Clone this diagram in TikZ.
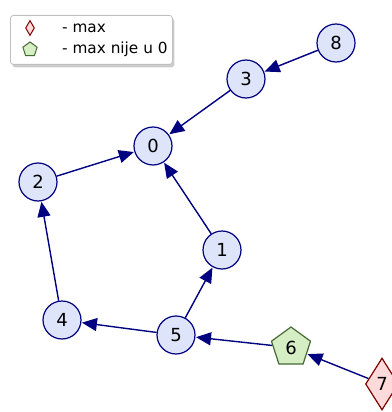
\documentclass[tikz,border=0pt]{standalone}
\usepackage{fontspec}
\setmainfont{DejaVu Sans}
\usepackage{xcolor}
\usepackage{tikz}
\usetikzlibrary{arrows.meta,shapes,shadows,positioning}
\definecolor{edgeblue}{RGB}{0,0,128}
\definecolor{nodefill}{RGB}{222,228,250}
\definecolor{pentfill}{RGB}{214,238,196}
\definecolor{pentdraw}{RGB}{70,105,55}
\definecolor{diafill}{RGB}{255,218,218}
\definecolor{diadraw}{RGB}{128,0,0}

\begin{document}
\begin{tikzpicture}[x=1pt, y=-1pt]
    \tikzset{
        vertex/.style={circle, draw=edgeblue, line width=1.2pt, fill=nodefill, minimum size=38pt, inner sep=0pt, font=\fontsize{18}{18}\selectfont},
        maxnode/.style={diamond, draw=diadraw, line width=1.2pt, fill=diafill, minimum width=33pt, minimum height=52pt, inner sep=0pt, font=\fontsize{18}{18}\selectfont},
        notzero/.style={regular polygon, regular polygon sides=5, draw=pentdraw, line width=1.2pt, fill=pentfill, minimum size=41pt, inner sep=0pt, font=\fontsize{18}{18}\selectfont},
        edge/.style={-{Triangle[length=15pt, width=13pt]}, line width=1.4pt, edgeblue, shorten >=0.5pt},
        legendbox/.style={draw=black!25, fill=white, rounded corners=3pt, line width=0.8pt, drop shadow={shadow xshift=2pt, shadow yshift=-3pt, fill=black!40}},
        legendtext/.style={anchor=west, inner sep=0pt, font=\fontsize{15.3}{15.3}\selectfont}
    }
    \useasboundingbox (0,0) rectangle (391,412);

    % legend
    \begin{scope}
        \node[legendbox, minimum width=162pt, minimum height=49pt, anchor=north west] (legend) at (10,15) {};
        \node[diamond, draw=diadraw, line width=1pt, fill=diafill, minimum width=9pt, minimum height=15pt, inner sep=0pt] (keymax) at (30,28) {};
        \node[regular polygon, regular polygon sides=5, draw=pentdraw, line width=1pt, fill=pentfill, minimum size=15pt, inner sep=0pt] (keynz) at (30,49.5) {};
        \node[legendtext] (txtmax) at (62,28) {- max};
        \node[legendtext] (txtnz) at (62,49) {- max nije u 0};
    \end{scope}

    % graph
    \node[vertex] (n0) at (153,146) {0};
    \node[vertex] (n1) at (222,250) {1};
    \node[vertex] (n2) at (38,182) {2};
    \node[vertex] (n3) at (246,79) {3};
    \node[vertex] (n4) at (62,320) {4};
    \node[vertex] (n5) at (176,335) {5};
    \node[notzero] (n6) at (291,347.5) {6};
    \node[maxnode] (n7) at (382,384) {7};
    \node[vertex] (n8) at (336,43) {8};

    \draw[edge] (n8) -- (n3);
    \draw[edge] (n3) -- (n0);
    \draw[edge] (n2) -- (n0);
    \draw[edge] (n1) -- (n0);
    \draw[edge] (n4) -- (n2);
    \draw[edge] (n5) -- (n4);
    \draw[edge] (n5) -- (n1);
    \draw[edge] (n6) -- (n5);
    \draw[edge] (n7) -- (n6);
\end{tikzpicture}
\end{document}
